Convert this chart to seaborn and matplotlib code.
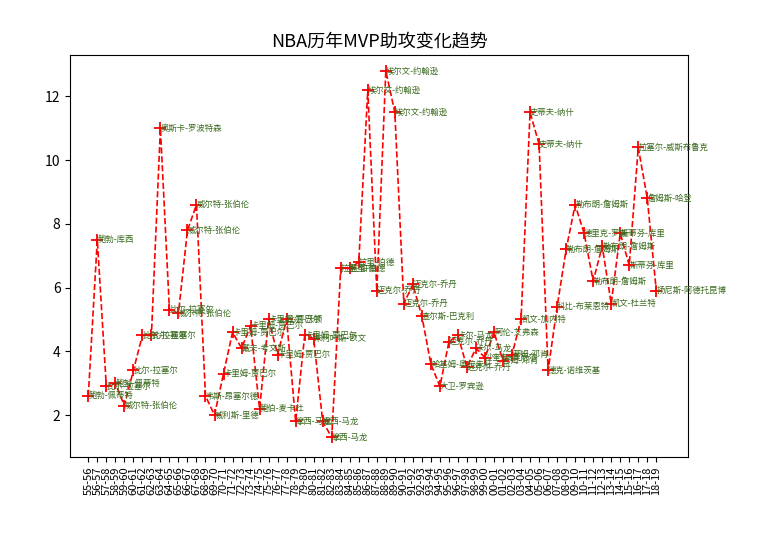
import matplotlib
matplotlib.use("Agg")
import matplotlib.pyplot as plt
import seaborn as sns
import pandas as pd

seasons = [f"{y%100:02d}-{(y+1)%100:02d}" for y in range(1955, 2019)]
players = ["鲍勃-佩蒂特","鲍勃-库西","比尔-拉塞尔","鲍勃-佩蒂特","威尔特-张伯伦","比尔-拉塞尔","比尔-拉塞尔","比尔-拉塞尔",
"奥斯卡-罗波特森","比尔-拉塞尔","威尔特-张伯伦","威尔特-张伯伦","威尔特-张伯伦","韦斯-昂塞尔德","威利斯-里德",
"卡里姆-贾巴尔","卡里姆-贾巴尔","戴夫-考文斯","卡里姆-贾巴尔","鲍伯-麦卡杜","卡里姆-贾巴尔","卡里姆-贾巴尔","比尔-沃顿",
"摩西-马龙","卡里姆-贾巴尔","朱利叶斯-欧文","摩西-马龙","摩西-马龙","拉里-伯德","拉里-伯德","拉里-伯德",
"埃尔文-约翰逊","迈克尔-乔丹","埃尔文-约翰逊","埃尔文-约翰逊","迈克尔-乔丹","迈克尔-乔丹","查尔斯-巴克利",
"哈基姆-奥拉朱旺","大卫-罗宾逊","迈克尔-乔丹","卡尔-马龙","迈克尔-乔丹","卡尔-马龙","沙奎尔-奥尼尔","阿伦-艾弗森",
"蒂姆-邓肯","蒂姆-邓肯","凯文-加内特","史蒂夫-纳什","史蒂夫-纳什","德克-诺维茨基","科比-布莱恩特","勒布朗-詹姆斯",
"勒布朗-詹姆斯","德里克-罗斯","勒布朗-詹姆斯","勒布朗-詹姆斯","凯文-杜兰特","斯蒂芬-库里","斯蒂芬-库里",
"拉塞尔-威斯布鲁克","詹姆斯-哈登","扬尼斯-阿德托昆博"]
assists = [2.6,7.5,2.9,3.0,2.3,3.4,4.5,4.5,11.0,5.3,5.2,7.8,8.6,2.6,2.0,3.3,4.6,4.1,4.8,2.2,5.0,3.9,5.0,1.8,4.5,4.4,
1.8,1.3,6.6,6.6,6.8,12.2,5.9,12.8,11.5,5.5,6.1,5.1,3.6,2.9,4.3,4.5,3.5,4.1,3.8,4.6,3.7,3.9,5.0,11.5,10.5,3.4,5.4,
7.2,8.6,7.7,6.2,7.3,5.5,7.7,6.7,10.4,8.8,5.9]

df = pd.DataFrame({"season": seasons, "player": players, "ast": assists})
cjk = ["Noto Sans CJK SC", "Noto Sans CJK JP", "Noto Sans CJK TC", "Noto Sans CJK KR", "DejaVu Sans"]
plt.rcParams["font.family"] = "sans-serif"
plt.rcParams["font.sans-serif"] = cjk
plt.rcParams["axes.unicode_minus"] = False
fig = plt.figure(figsize=(7.72, 5.5), dpi=100)
ax = fig.add_axes([0.091, 0.17, 0.80, 0.73])
x = list(range(len(df)))
sns.lineplot(x=x, y=df["ast"], ax=ax, color="red", linestyle="--", marker="+",
             markersize=9, markeredgecolor="red", markeredgewidth=1.3, linewidth=1.2)
for i, (p, a) in enumerate(zip(df["player"], df["ast"])):
    ax.text(i, a, p, fontsize=6, color="#3a6b1e", va="center", ha="left", family=cjk)
ax.set_xticks(x)
ax.set_xticklabels(seasons, rotation=90, fontsize=8)
ax.set_xlim(-2, len(df) + 2.5)
ax.set_ylim(0.7, 13.3)
ax.set_yticks([2, 4, 6, 8, 10, 12])
ax.set_ylabel(""); ax.set_xlabel("")
ax.set_title("NBA历年MVP助攻变化趋势", fontsize=13, family=cjk)
fig.savefig("out.png", dpi=100)
